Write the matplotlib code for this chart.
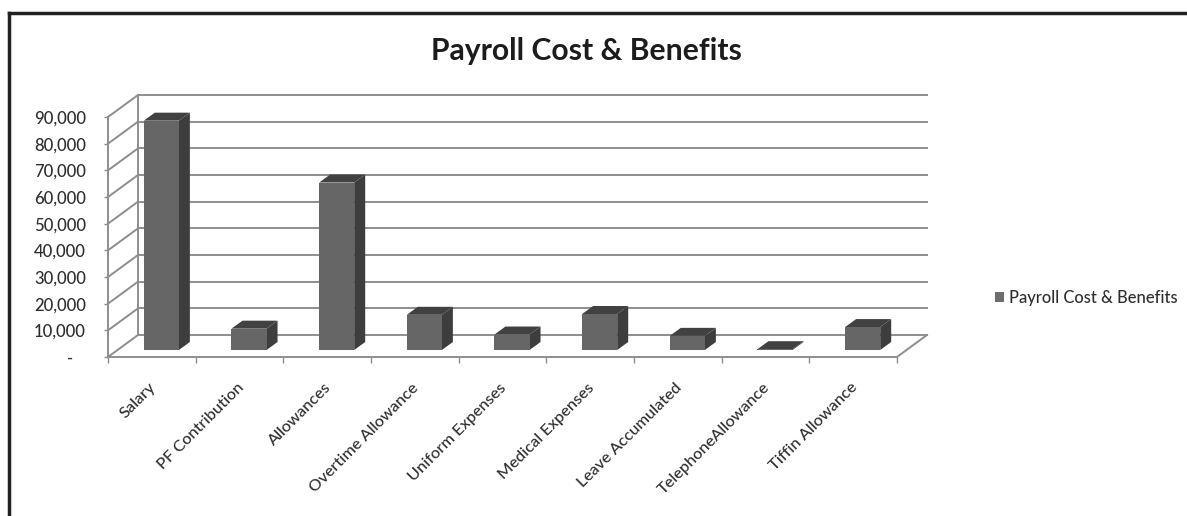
import matplotlib
matplotlib.use('Agg')
import matplotlib.pyplot as plt
import numpy as np
from matplotlib.patches import Patch, Polygon
from matplotlib.lines import Line2D
from matplotlib.transforms import Affine2D, IdentityTransform

plt.rcParams['font.family'] = ['Lato', 'DejaVu Sans']
plt.rcParams['font.weight'] = 'medium'

# Data
categories = ['Salary', 'PF Contribution', 'Allowances', 'Overtime Allowance', 'Uniform Expenses',
              'Medical Expenses', 'Leave Accumulated', 'TelephoneAllowance', 'Tiffin Allowance']
values = [86000, 8000, 62800, 13200, 5800, 13500, 5300, 300, 8600]
y_ticks = [0, 10000, 20000, 30000, 40000, 50000, 60000, 70000, 80000, 90000]
series_name = 'Payroll Cost & Benefits'

W, H = 1187, 516
GRID = '#8e8e8e'
TEXT = '#2e2e2e'
FRONT = '#666666'
DARK = '#3d3d3d'

fig = plt.figure(figsize=(W / 100, H / 100), dpi=100)
ax = fig.add_axes([108 / W, (H - 357) / H, (897 - 108) / W, (357 - 117) / H])
ax.set_xlim(0, len(categories))
ax.set_ylim(0, 90000)
ax.patch.set_visible(False)

# Oblique projection, depth goes back and up in pixels
WALL = np.array([30.0, 22.0])
BAR_START = np.array([9.5, 7.0])
BAR_DEPTH = np.array([11.0, 8.0])


def project(x, y, offset=(0, 0)):
    return ax.transData.transform((x, y)) + np.asarray(offset)


def line3d(p, q, color=GRID, lw=1.4, zorder=1):
    ax.add_line(Line2D([p[0], q[0]], [p[1], q[1]], color=color, lw=lw, zorder=zorder,
                       transform=IdentityTransform(), clip_on=False))


def face(points, color, zorder):
    ax.add_patch(Polygon(points, closed=True, facecolor=color, edgecolor='none', zorder=zorder,
                         transform=IdentityTransform(), clip_on=False))


# Back wall grid and left wall diagonals
n = len(categories)
for v in y_ticks:
    line3d(project(0, v), project(0, v, WALL))
    line3d(project(0, v, WALL), project(n, v, WALL))
line3d(project(n, 0), project(n, 0, WALL))
line3d(project(0, 0, WALL), project(0, 90000, WALL))

# Bars
bar_width = 0.4
for i, val in enumerate(values):
    x0, x1 = i + 0.5 - bar_width / 2, i + 0.5 + bar_width / 2
    a = project(x0, 0, BAR_START)
    b = project(x1, 0, BAR_START)
    c = project(x1, val, BAR_START)
    d = project(x0, val, BAR_START)
    face([b, b + BAR_DEPTH, c + BAR_DEPTH, c], DARK, 3)
    face([d, c, c + BAR_DEPTH, d + BAR_DEPTH], '#414141', 3)
    face([a, b, c, d], FRONT, 4)

# Axes
for side in ['top', 'right']:
    ax.spines[side].set_visible(False)
for side in ['left', 'bottom']:
    ax.spines[side].set_color(GRID)
    ax.spines[side].set_linewidth(1.4)

ax.set_yticks(y_ticks)
ax.set_yticklabels([f'{v:,}' if v else '-   ' for v in y_ticks], fontsize=12, color=TEXT)
ax.tick_params(axis='y', color=GRID, length=3, width=1, pad=13)

ax.set_xticks(np.arange(n + 1))
ax.tick_params(axis='x', which='major', color=GRID, length=4, width=1, labelbottom=False)
ax.set_xticks(np.arange(n) + 0.5, minor=True)
ax.set_xticklabels(categories, minor=True, rotation=45, ha='right', va='top', rotation_mode='anchor',
                   fontsize=11.8, color=TEXT)
ax.tick_params(axis='x', which='minor', length=0, pad=17)
for lbl in ax.get_xticklabels(minor=True):
    lbl.set_transform(lbl.get_transform() + Affine2D().translate(-3, 0))

fig.text(586 / W, 1 - 51 / H, series_name, ha='center', va='center', fontsize=21.7,
         fontweight='bold', color='#1c1c1c')

handle = Patch(facecolor='#6e6e6e', edgecolor='none')
fig.legend(handles=[handle], labels=[series_name], loc='center left',
           bbox_to_anchor=(995 / W, 1 - 298 / H), frameon=False, fontsize=11.9, labelcolor=TEXT,
           handlelength=0.55, handleheight=0.55, handletextpad=0.27, borderpad=0, borderaxespad=0)

# Scanned frame, open at the bottom and on the right
frame = dict(color='#222222', lw=2.5, solid_capstyle='projecting')
fig.add_artist(Line2D([8.5 / W, 8.5 / W], [0, 1 - 12.5 / H], **frame))
fig.add_artist(Line2D([8.5 / W, 1], [1 - 12.5 / H, 1 - 12.5 / H], **frame))

fig.savefig('out.png', dpi=100)
